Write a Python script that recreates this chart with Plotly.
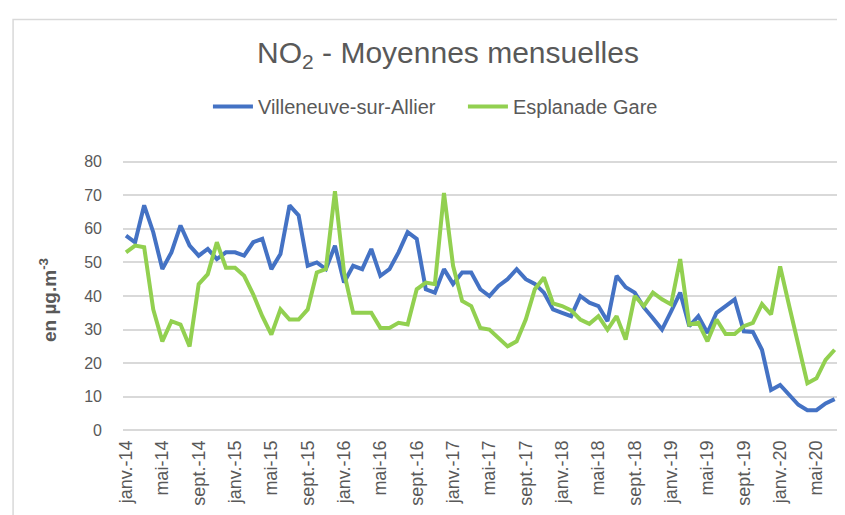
import plotly.graph_objects as go

months_fr = ["janv.", "févr.", "mars", "avr.", "mai", "juin", "juil.", "août", "sept.", "oct.", "nov.", "déc."]
categories = [f"{months_fr[m]}-{str(y)[2:]}" for y in range(2014, 2021) for m in range(12)][:79]

villeneuve = [58, 56, 67, 59, 48, 53, 61, 55, 52, 54, 51, 53,
              53, 52, 56, 57, 48, 52.5, 67, 64, 49, 50, 48, 55,
              44, 49, 48, 54, 46, 48, 53, 59, 57, 42, 41, 48,
              43.6, 47, 47, 42, 40, 43, 45, 48, 45, 43.6, 41, 36,
              35, 34, 40, 38, 37, 32.5, 46, 42.6, 41, 36.6, 33.4, 30,
              35.4, 41, 31, 34, 29, 35, 37, 39, 29.5, 29.3, 24, 12,
              13.5, 10.5, 7.6, 6, 6, 8, 9.3]

esplanade = [53, 55, 54.5, 36, 26.5, 32.5, 31.5, 25, 43.5, 46.5, 56, 48.4,
             48.4, 46, 40.5, 34, 28.5, 36, 33, 33, 36, 47, 48, 71.2,
             47, 35, 35, 35, 30.5, 30.5, 32, 31.5, 42, 44, 43.5, 70.7,
             49, 38.5, 37, 30.5, 30, 27.5, 25, 26.5, 33, 42, 45.5, 37.8,
             37, 35.7, 33, 31.7, 34, 30, 34, 27, 40, 37, 41, 39,
             37.5, 51, 31.5, 32, 26.5, 33, 28.7, 28.7, 31, 32, 37.6, 34.5,
             48.8, 37, 25, 14, 15.5, 21, 24]

tick_idx = list(range(0, 79, 4))
tick_labels = [categories[i] for i in tick_idx]
y_ticks = [0, 10, 20, 30, 40, 50, 60, 70, 80]

xs = list(range(len(categories)))

fig = go.Figure()
fig.add_trace(go.Scatter(x=xs, y=villeneuve, mode="lines", name="Villeneuve-sur-Allier",
                         line=dict(color="#4472C4", width=4), customdata=categories,
                         hovertemplate="%{customdata}: %{y}<extra></extra>"))
fig.add_trace(go.Scatter(x=xs, y=esplanade, mode="lines", name="Esplanade Gare",
                         line=dict(color="#92D050", width=4), customdata=categories,
                         hovertemplate="%{customdata}: %{y}<extra></extra>"))

L, R, T, B = 115, 833.5, 152.3, 423.7
W, H = R - L, B - T

def px(xp):
    return (xp - L) / W

def py(yp):
    return (B - yp) / H

fig.update_layout(
    width=845, height=515,
    margin=dict(l=L, r=845 - R, t=T, b=515 - B, pad=0),
    paper_bgcolor="white", plot_bgcolor="white",
    font=dict(family="Liberation Sans, Arial, sans-serif", color="#595959"),
    title=dict(text="NO<sub>2</sub> - Moyennes mensuelles", x=440 / 845, xanchor="center",
               y=1 - 44 / 515, yanchor="middle",
               font=dict(size=30, color="#595959", family="Liberation Sans, Arial, sans-serif")),
    showlegend=True,
    legend=dict(orientation="h", x=px(200), xanchor="left", y=py(99), yanchor="middle",
                font=dict(size=20, color="#595959"), itemwidth=40, tracegroupgap=0,
                entrywidth=200, entrywidthmode="pixels",
                bgcolor="rgba(0,0,0,0)"),
    xaxis=dict(range=[-0.33, 78.7], tickmode="array", tickvals=tick_idx, ticktext=tick_labels,
               tickangle=-90, showgrid=False, zeroline=False, showline=False, ticks="",
               tickfont=dict(size=18, color="#595959"), ticklabelstandoff=4, fixedrange=True),
    yaxis=dict(range=[-0.5, 80.5], tickmode="array", tickvals=y_ticks, showgrid=True,
               gridcolor="#d9d9d9", gridwidth=2, zeroline=False, showline=False, ticks="",
               tickfont=dict(size=16, color="#595959"), ticklabelstandoff=20, fixedrange=True),
    shapes=[dict(type="rect", xref="paper", yref="paper", x0=px(5), x1=px(852),
                 y0=py(522), y1=py(12), line=dict(color="#d9d9d9", width=1.5),
                 fillcolor="rgba(0,0,0,0)", layer="below")],
    annotations=[dict(text="<b>en µg.m<sup>-3</sup></b>", xref="paper", yref="paper",
                      x=px(40), y=py(292), textangle=-90, showarrow=False,
                      xanchor="center", yanchor="middle",
                      font=dict(size=19, color="#595959"))],
)

fig.write_html("out.html")
